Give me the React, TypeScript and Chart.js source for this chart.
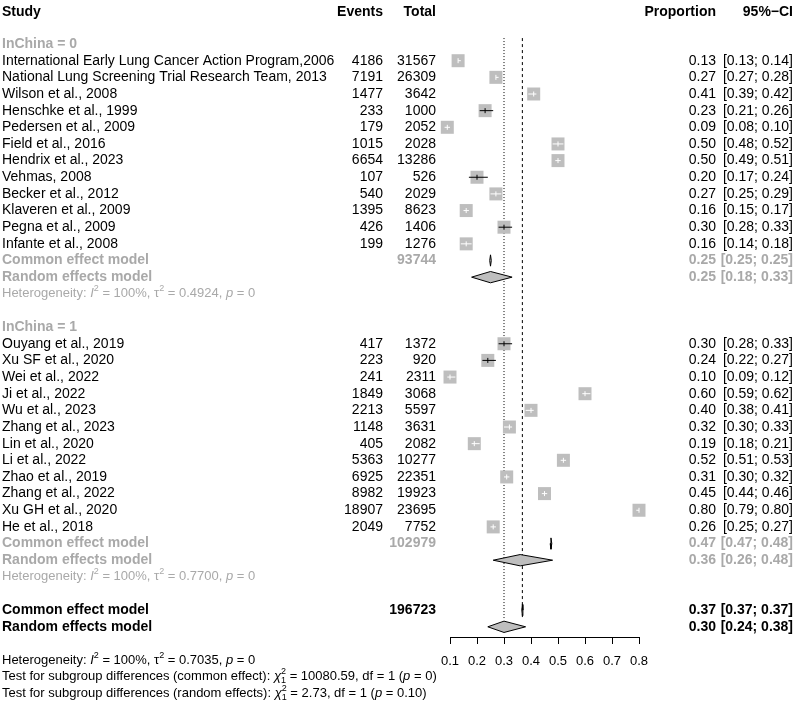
import React, { useEffect, useRef } from "react";
import { Chart, registerables } from "chart.js";
Chart.register(...registerables);

const FONT = '"Liberation Sans", Arial, Helvetica, sans-serif';
const GRAY_TEXT = "#A9A9A9";
const SQUARE_FILL = "#BEBEBE";
const DIAMOND_FILL = "#BEBEBE";

// ---- Data: InChina = 0 ----
const studies0 = [
  "International Early Lung Cancer Action Program,2006",
  "National Lung Screening Trial Research Team, 2013",
  "Wilson et al., 2008",
  "Henschke et al., 1999",
  "Pedersen et al., 2009",
  "Field et al., 2016",
  "Hendrix et al., 2023",
  "Vehmas, 2008",
  "Becker et al., 2012",
  "Klaveren et al., 2009",
  "Pegna et al., 2009",
  "Infante et al., 2008",
];
const events0 = [4186, 7191, 1477, 233, 179, 1015, 6654, 107, 540, 1395, 426, 199];
const totals0 = [31567, 26309, 3642, 1000, 2052, 2028, 13286, 526, 2029, 8623, 1406, 1276];
const prop0 = [0.13, 0.27, 0.41, 0.23, 0.09, 0.5, 0.5, 0.2, 0.27, 0.16, 0.3, 0.16];
const lower0 = [0.13, 0.27, 0.39, 0.21, 0.08, 0.48, 0.49, 0.17, 0.25, 0.15, 0.28, 0.14];
const upper0 = [0.14, 0.28, 0.42, 0.26, 0.1, 0.52, 0.51, 0.24, 0.29, 0.17, 0.33, 0.18];

// ---- Data: InChina = 1 ----
const studies1 = [
  "Ouyang et al., 2019",
  "Xu SF et al., 2020",
  "Wei et al., 2022",
  "Ji et al., 2022",
  "Wu et al., 2023",
  "Zhang et al., 2023",
  "Lin et al., 2020",
  "Li et al., 2022",
  "Zhao et al., 2019",
  "Zhang et al., 2022",
  "Xu GH et al., 2020",
  "He et al., 2018",
];
const events1 = [417, 223, 241, 1849, 2213, 1148, 405, 5363, 6925, 8982, 18907, 2049];
const totals1 = [1372, 920, 2311, 3068, 5597, 3631, 2082, 10277, 22351, 19923, 23695, 7752];
const prop1 = [0.3, 0.24, 0.1, 0.6, 0.4, 0.32, 0.19, 0.52, 0.31, 0.45, 0.8, 0.26];
const lower1 = [0.28, 0.22, 0.09, 0.59, 0.38, 0.3, 0.18, 0.51, 0.3, 0.44, 0.79, 0.25];
const upper1 = [0.33, 0.27, 0.12, 0.62, 0.41, 0.33, 0.21, 0.53, 0.32, 0.46, 0.8, 0.27];

// ---- Subgroup summaries ----
const groupLabels = ["InChina = 0", "InChina = 1"];
const commonTotals = [93744, 102979];
const commonEst = [0.25, 0.474];
const commonLow = [0.247, 0.471];
const commonHigh = [0.253, 0.477];
const randomEst = [0.25, 0.36];
const randomLow = [0.18, 0.26];
const randomHigh = [0.33, 0.48];
const groupI2 = ["100%", "100%"];
const groupTau2 = ["0.4924", "0.7700"];
const groupP = ["0", "0"];

// ---- Overall ----
const overallTotal = 196723;
const overallCommon = [0.368, 0.366, 0.37]; // est, low, high
const overallRandom = [0.3, 0.24, 0.38];
const overallI2 = "100%";
const overallTau2 = "0.7035";
const overallP = "0";
const testCommon = { chi2: "10080.59", df: "1", p: "0" };
const testRandom = { chi2: "2.73", df: "1", p: "0.10" };

// ---- Axis ----
const xTicksMin = 0.1;
const xTicksMax = 0.8;

// ---- Layout (row positions) ----
const ROW0_PX = 60.7; // pixel centre of the first study row
const ROW_PX = 16.65; // row height in pixels
const ROW_HEADER = -2.925;
const ROW_GROUP = [-1, 16];
const ROW_FIRST = [0, 17];
const ROW_COMMON = [12, 29];
const ROW_RANDOM = [13, 30];
const ROW_HET = [14, 31];
const ROW_OV_COMMON = 33;
const ROW_OV_RANDOM = 34;
const ROW_OV_HET = 36;
const ROW_TEST_C = 37;
const ROW_TEST_R = 38;
const REF_TOP = -1.36;
const REF_BOTTOM = 33.5;
const DIAMOND_H = 0.34;
const SQ = 13;

const X_STUDY = 2;
const X_EVENTS = 383;
const X_TOTAL = 436;
const X_PROP = 716;
const X_CI = 793;

type Seg = { t: string; s?: "i" | "sup" | "supsub" };

function drawRich(ctx: CanvasRenderingContext2D, segs: Seg[], x: number, y: number, size: number, color: string) {
  ctx.save();
  ctx.fillStyle = color;
  ctx.textBaseline = "middle";
  ctx.textAlign = "left";
  let cx = x;
  for (const sg of segs) {
    if (sg.s === "sup") {
      ctx.font = `${Math.round(size * 0.72)}px ${FONT}`;
      ctx.fillText(sg.t, cx, y - size * 0.38);
      cx += ctx.measureText(sg.t).width;
    } else if (sg.s === "supsub") {
      const [a, b] = sg.t.split("/");
      ctx.font = `${Math.round(size * 0.72)}px ${FONT}`;
      ctx.fillText(a, cx, y - size * 0.38);
      ctx.fillText(b, cx, y + size * 0.3);
      cx += Math.max(ctx.measureText(a).width, ctx.measureText(b).width);
    } else {
      ctx.font = `${sg.s === "i" ? "italic " : ""}${size}px ${FONT}`;
      ctx.fillText(sg.t, cx, y);
      cx += ctx.measureText(sg.t).width;
    }
  }
  ctx.restore();
}

const hetSegs = (i2: string, tau2: string, p: string): Seg[] => [
  { t: "Heterogeneity: " },
  { t: "I", s: "i" },
  { t: "2", s: "sup" },
  { t: ` = ${i2}, ` },
  { t: "\u03C4" },
  { t: "2", s: "sup" },
  { t: ` = ${tau2}, ` },
  { t: "p", s: "i" },
  { t: ` = ${p}` },
];

const testSegs = (label: string, r: { chi2: string; df: string; p: string }): Seg[] => [
  { t: `Test for subgroup differences (${label}): ` },
  { t: "\u03C7", s: "i" },
  { t: `2/${r.df}`, s: "supsub" },
  { t: ` = ${r.chi2}, df = ${r.df} (` },
  { t: "p", s: "i" },
  { t: ` = ${r.p})` },
];

const ciText = (lo: number, hi: number) => `[${lo.toFixed(2)}; ${hi.toFixed(2)}]`;

export default function App() {
  const ref = useRef<HTMLCanvasElement | null>(null);

  useEffect(() => {
    if (!ref.current) return;
    const groups = [
      { studies: studies0, events: events0, totals: totals0, prop: prop0, lo: lower0, hi: upper0 },
      { studies: studies1, events: events1, totals: totals1, prop: prop1, lo: lower1, hi: upper1 },
    ];

    const datasets: any[] = [];
    const squares: { x: number; y: number }[] = [];

    groups.forEach((g, gi) => {
      g.prop.forEach((p, i) => {
        const row = ROW_FIRST[gi] + i;
        squares.push({ x: p, y: row });
        const lo = g.lo[i];
        const hi = g.hi[i];
        const col = (c: any) => {
          const xs = c.chart.scales.x;
          const w = xs.getPixelForValue(hi) - xs.getPixelForValue(lo);
          return w > SQ ? "#000000" : "#FFFFFF";
        };
        datasets.push({
          type: "line",
          data: [
            { x: lo, y: row },
            { x: hi, y: row },
          ],
          borderColor: col,
          borderWidth: 1,
          pointRadius: 0,
          fill: false,
          clip: false,
          order: 0,
        });
        datasets.push({
          type: "scatter",
          data: [{ x: p, y: row }],
          pointStyle: "line",
          pointRadius: 2.5,
          rotation: 90,
          borderColor: col,
          pointBorderColor: col,
          pointBorderWidth: 1,
          clip: false,
          order: 0,
        });
      });
    });

    datasets.push({
      type: "scatter",
      data: squares,
      pointStyle: "rect",
      pointRadius: SQ / (2 * Math.SQRT1_2),
      backgroundColor: SQUARE_FILL,
      borderWidth: 0,
      pointBorderWidth: 0,
      clip: false,
      order: 1,
    });

    const addDiamond = (est: number, lo: number, hi: number, row: number) => {
      const idx = datasets.length;
      datasets.push({
        type: "line",
        data: [
          { x: lo, y: row },
          { x: est, y: row - DIAMOND_H },
          { x: hi, y: row },
        ],
        borderColor: "#000000",
        borderWidth: 1,
        pointRadius: 0,
        fill: false,
        clip: false,
        order: 0,
      });
      datasets.push({
        type: "line",
        data: [
          { x: lo, y: row },
          { x: est, y: row + DIAMOND_H },
          { x: hi, y: row },
        ],
        borderColor: "#000000",
        backgroundColor: DIAMOND_FILL,
        borderWidth: 1,
        pointRadius: 0,
        fill: idx,
        clip: false,
        order: 0,
      });
    };

    [0, 1].forEach((gi) => {
      addDiamond(commonEst[gi], commonLow[gi], commonHigh[gi], ROW_COMMON[gi]);
      addDiamond(randomEst[gi], randomLow[gi], randomHigh[gi], ROW_RANDOM[gi]);
    });
    addDiamond(overallCommon[0], overallCommon[1], overallCommon[2], ROW_OV_COMMON);
    addDiamond(overallRandom[0], overallRandom[1], overallRandom[2], ROW_OV_RANDOM);

    // reference lines
    datasets.push({
      type: "line",
      data: [
        { x: overallRandom[0], y: REF_TOP },
        { x: overallRandom[0], y: REF_BOTTOM },
      ],
      borderColor: "#000000",
      borderWidth: 1,
      borderDash: [1, 2],
      pointRadius: 0,
      fill: false,
      clip: false,
      order: 5,
    });
    datasets.push({
      type: "line",
      data: [
        { x: overallCommon[0], y: REF_TOP },
        { x: overallCommon[0], y: REF_BOTTOM },
      ],
      borderColor: "#000000",
      borderWidth: 1,
      borderDash: [3, 3],
      pointRadius: 0,
      fill: false,
      clip: false,
      order: 5,
    });

    const textPlugin = {
      id: "forestText",
      afterDraw(chart: any) {
        const ctx: CanvasRenderingContext2D = chart.ctx;
        const ys = chart.scales.y;
        const Y = (r: number) => ys.getPixelForValue(r);
        const txt = (s: string, x: number, r: number, align: CanvasTextAlign, bold: boolean, color: string, size = 14) => {
          ctx.save();
          ctx.font = `${bold ? "bold " : ""}${size}px ${FONT}`;
          ctx.fillStyle = color;
          ctx.textAlign = align;
          ctx.textBaseline = "middle";
          ctx.fillText(s, x, Y(r));
          ctx.restore();
        };
        // header
        txt("Study", X_STUDY, ROW_HEADER, "left", true, "#000");
        txt("Events", X_EVENTS, ROW_HEADER, "right", true, "#000");
        txt("Total", X_TOTAL, ROW_HEADER, "right", true, "#000");
        txt("Proportion", X_PROP, ROW_HEADER, "right", true, "#000");
        txt("95%\u2212CI", X_CI, ROW_HEADER, "right", true, "#000");

        groups.forEach((g, gi) => {
          txt(groupLabels[gi], X_STUDY, ROW_GROUP[gi], "left", true, GRAY_TEXT);
          g.studies.forEach((s, i) => {
            const r = ROW_FIRST[gi] + i;
            txt(s, X_STUDY, r, "left", false, "#000");
            txt(String(g.events[i]), X_EVENTS, r, "right", false, "#000");
            txt(String(g.totals[i]), X_TOTAL, r, "right", false, "#000");
            txt(g.prop[i].toFixed(2), X_PROP, r, "right", false, "#000");
            txt(ciText(g.lo[i], g.hi[i]), X_CI, r, "right", false, "#000");
          });
          txt("Common effect model", X_STUDY, ROW_COMMON[gi], "left", true, GRAY_TEXT);
          txt(String(commonTotals[gi]), X_TOTAL, ROW_COMMON[gi], "right", true, GRAY_TEXT);
          txt(commonEst[gi].toFixed(2), X_PROP, ROW_COMMON[gi], "right", true, GRAY_TEXT);
          txt(ciText(commonLow[gi], commonHigh[gi]), X_CI, ROW_COMMON[gi], "right", true, GRAY_TEXT);
          txt("Random effects model", X_STUDY, ROW_RANDOM[gi], "left", true, GRAY_TEXT);
          txt(randomEst[gi].toFixed(2), X_PROP, ROW_RANDOM[gi], "right", true, GRAY_TEXT);
          txt(ciText(randomLow[gi], randomHigh[gi]), X_CI, ROW_RANDOM[gi], "right", true, GRAY_TEXT);
          drawRich(ctx, hetSegs(groupI2[gi], groupTau2[gi], groupP[gi]), X_STUDY, Y(ROW_HET[gi]), 13, GRAY_TEXT);
        });

        txt("Common effect model", X_STUDY, ROW_OV_COMMON, "left", true, "#000");
        txt(String(overallTotal), X_TOTAL, ROW_OV_COMMON, "right", true, "#000");
        txt(overallCommon[0].toFixed(2), X_PROP, ROW_OV_COMMON, "right", true, "#000");
        txt(ciText(overallCommon[1], overallCommon[2]), X_CI, ROW_OV_COMMON, "right", true, "#000");
        txt("Random effects model", X_STUDY, ROW_OV_RANDOM, "left", true, "#000");
        txt(overallRandom[0].toFixed(2), X_PROP, ROW_OV_RANDOM, "right", true, "#000");
        txt(ciText(overallRandom[1], overallRandom[2]), X_CI, ROW_OV_RANDOM, "right", true, "#000");

        drawRich(ctx, hetSegs(overallI2, overallTau2, overallP), X_STUDY, Y(ROW_OV_HET), 13, "#000");
        drawRich(ctx, testSegs("common effect", testCommon), X_STUDY, Y(ROW_TEST_C), 13, "#000");
        drawRich(ctx, testSegs("random effects", testRandom), X_STUDY, Y(ROW_TEST_R), 13, "#000");
      },
    };

    const chart = new Chart(ref.current, {
      type: "scatter",
      data: { datasets },
      options: {
        animation: false,
        responsive: true,
        maintainAspectRatio: false,
        layout: { padding: { left: 450, right: 158, top: 0, bottom: 0 } },
        plugins: { legend: { display: false }, tooltip: { enabled: false } },
        events: [],
        scales: {
          x: {
            type: "linear",
            position: "bottom",
            min: xTicksMin,
            max: xTicksMax,
            afterFit: (s: any) => {
              s.height = 68;
              s.paddingLeft = 0;
              s.paddingRight = 0;
            },
            border: { display: true, color: "#000", width: 1 },
            grid: { drawOnChartArea: false, drawTicks: true, tickLength: 7, color: "#000", lineWidth: 1 },
            ticks: {
              stepSize: 0.1,
              color: "#000",
              padding: 10,
              maxRotation: 0,
              autoSkip: false,
              font: { family: FONT, size: 13 },
              callback: (v: any) => Number(v).toFixed(1),
            },
          },
          y: {
            type: "linear",
            display: false,
            reverse: true,
            min: -3.6,
            max: 34.6,
          },
        },
      } as any,
      plugins: [textPlugin],
    });

    // align the row scale so that rows land on fixed pixel rows regardless of layout padding
    const area = chart.chartArea;
    const yOpts: any = (chart.options as any).scales.y;
    yOpts.min = (area.top - ROW0_PX) / ROW_PX;
    yOpts.max = (area.bottom - ROW0_PX) / ROW_PX;
    chart.update();

    return () => chart.destroy();
  }, []);

  return (
    <div style={{ position: "fixed", left: 0, top: 0, width: 797, height: 705, background: "#fff" }}>
      <canvas ref={ref} />
    </div>
  );
}
